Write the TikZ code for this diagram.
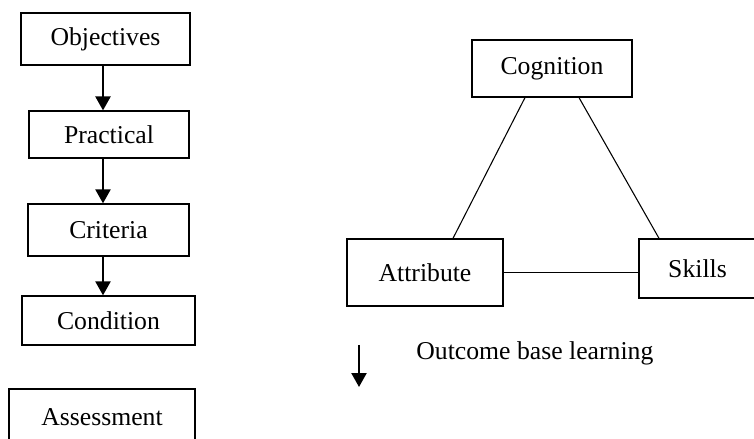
\documentclass[tikz,border=0pt]{standalone}
\usepackage{fontspec}
\setmainfont{Liberation Serif}
\usetikzlibrary{arrows.meta,calc}

\begin{document}
\begin{tikzpicture}[x=0.467pt,y=-0.467pt,
  box/.style={draw,line width=0.6pt,inner sep=0pt,font=\fontsize{12}{14}\selectfont},
  flow/.style={line width=1pt,-{Triangle[width=7pt,length=6.5pt]}},
  link/.style={line width=0.5pt}]

\clip (0,0) rectangle (754,439);

\node[box,minimum width=78.9pt,minimum height=24.3pt] (obj) at (105.5,39) {Objectives};
\node[box,minimum width=74.7pt,minimum height=21.9pt] (prac) at (109,134.5) {Practical};
\node[box,minimum width=75.2pt,minimum height=24.3pt] (crit) at (108.5,230) {Criteria};
\node[box,minimum width=80.8pt,minimum height=22.9pt] (cond) at (108.5,320.5) {Condition};
\node[box,minimum width=86.9pt,minimum height=26.2pt] (assess) at (102,417) {Assessment};

\coordinate (ax) at (103,0);
\draw[flow] (obj.south -| ax) -- (prac.north -| ax);
\draw[flow] (prac.south -| ax) -- (crit.north -| ax);
\draw[flow] (crit.south -| ax) -- (cond.north -| ax);

\node[box,minimum width=74.7pt,minimum height=26.6pt] (cog) at (552,68.5) {Cognition};
\node[box,minimum width=72.9pt,minimum height=31.3pt] (attr) at (425,272.5) {Attribute};
\node[box,minimum width=54.6pt,minimum height=27.6pt] (skills) at (697.5,268.5) {Skills};

\draw[link] ($(cog.south)+(-27,0)$) -- ($(attr.north)+(28,0)$);
\draw[link] ($(cog.south)+(27,0)$) -- ($(skills.north)+(-38.5,0)$);
\draw[link] (attr.east) -- (attr.east -| skills.west);

\coordinate (dtop) at (359,345);
\coordinate (dbot) at (359,387);
\draw[flow] (dtop) -- (dbot);
\node[anchor=base west,inner sep=0pt,font=\fontsize{12}{14}\selectfont] (obl) at (416,360) {Outcome base learning};

\end{tikzpicture}
\end{document}
